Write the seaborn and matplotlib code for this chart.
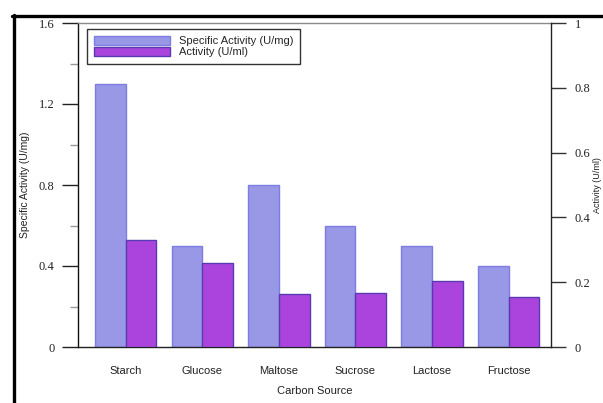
import matplotlib
matplotlib.use("Agg")
import matplotlib.pyplot as plt
from matplotlib.lines import Line2D
import seaborn as sns
import pandas as pd

# Enzyme production on different carbon sources
categories = ["Starch", "Glucose", "Maltose", "Sucrose", "Lactose", "Fructose"]
specific_activity = [1.30, 0.50, 0.80, 0.60, 0.50, 0.40]   # U/mg, left axis
activity = [0.33, 0.26, 0.163, 0.166, 0.203, 0.153]        # U/ml, right axis

SPEC = "Specific Activity (U/mg)"
ACT = "Activity (U/ml)"
left_ticks = [0, 0.4, 0.8, 1.2, 1.6]
left_tick_labels = ["0", "0.4", "0.8", "1.2", "1.6"]
left_minor = [0.2, 0.6, 1.0, 1.4]
right_ticks = [0, 0.2, 0.4, 0.6, 0.8, 1.0]
right_tick_labels = ["0", "0.2", "0.4", "0.6", "0.8", "1"]

df = pd.DataFrame({
    "Carbon Source": categories * 2,
    "value": specific_activity + activity,
    "series": [SPEC] * len(categories) + [ACT] * len(categories),
})

sns.set_style("white")
plt.rcParams["font.family"] = ["Liberation Sans", "DejaVu Sans"]

fill = {SPEC: "#9898e6", ACT: "#aa44dd"}
edge = {SPEC: "#7d7de2", ACT: "#5a3ab2"}

fig = plt.figure(figsize=(6.03, 4.03), dpi=100)
ax1 = fig.add_axes([78 / 603, 1 - 347 / 403, 473 / 603, 324 / 403])
ax2 = ax1.twinx()

for ax, name in ((ax1, SPEC), (ax2, ACT)):
    sns.barplot(data=df[df["series"] == name], x="Carbon Source", y="value",
                hue="series", hue_order=[SPEC, ACT], order=categories,
                palette=fill, dodge=True, width=0.8, gap=0, errorbar=None,
                edgecolor=edge[name], linewidth=1.0, saturation=1,
                legend=False, ax=ax)

ax1.set_xlim(-0.625, 5.555)
ax1.set_ylim(0, 1.6)
ax2.set_ylim(0, 1.0)

serif = ["Liberation Serif", "DejaVu Serif"]

ax1.set_yticks(left_ticks)
ax1.set_yticklabels(left_tick_labels, family=serif, fontsize=9, color="#222222")
ax1.set_yticks(left_minor, minor=True)
ax1.tick_params(axis="y", which="major", direction="out", length=11.5, width=1,
                color="#222222", pad=5.5, left=True, right=False)
ax1.tick_params(axis="y", which="minor", direction="out", length=6, width=1,
                color="#999999", left=True, right=False)

ax2.set_yticks(right_ticks)
ax2.set_yticklabels(right_tick_labels, family=serif, fontsize=9, color="#222222")
ax2.tick_params(axis="y", which="major", direction="out", length=11, width=1,
                color="#333333", pad=6, right=True, left=False)

ax1.set_xticks(range(len(categories)))
ax1.set_xticklabels(categories, fontsize=8, color="#222222")
ax1.tick_params(axis="x", length=0, pad=14)
ax1.set_xlabel("Carbon Source", fontsize=8, color="#222222", labelpad=7)
ax2.set_xlabel("")

narrow = ["Liberation Sans Narrow", "Liberation Sans", "DejaVu Sans"]
ax1.set_ylabel(SPEC, family=narrow, fontsize=7.5, color="#222222", labelpad=6)
ax2.set_ylabel(ACT, family=narrow, fontsize=6.5, color="#222222", labelpad=2,
               rotation=90)

for ax in (ax1, ax2):
    for side in ("left", "right", "top", "bottom"):
        ax.spines[side].set_visible(False)
ax1.spines["left"].set_visible(True)
ax1.spines["left"].set_color("#111111")
ax1.spines["bottom"].set_visible(True)
ax1.spines["bottom"].set_color("#222222")
ax1.spines["top"].set_visible(True)
ax1.spines["top"].set_color("#8a8a8a")
ax2.spines["right"].set_visible(True)
ax2.spines["right"].set_color("#222222")
for ax in (ax1, ax2):
    for sp in ax.spines.values():
        sp.set_linewidth(1.0)

handles = [ax1.patches[0], ax2.patches[0]]
leg = ax2.legend(handles, [SPEC, ACT], loc="upper left",
                 bbox_to_anchor=(9 / 473, 1 - 6 / 324), fontsize=8,
                 frameon=True, fancybox=False, edgecolor="#333333",
                 framealpha=1, handlelength=6.9, handleheight=0.9,
                 handletextpad=0.8, labelspacing=0.05, borderpad=0.6,
                 borderaxespad=0)
leg.get_frame().set_linewidth(1.0)

# Heavy border along the top and left of the figure panel
fig.add_artist(Line2D([12 / 603, 1], [1 - 15.5 / 403] * 2,
                      transform=fig.transFigure, color="black", lw=2.4))
fig.add_artist(Line2D([13.5 / 603] * 2, [0, 1 - 14.5 / 403],
                      transform=fig.transFigure, color="black", lw=2.4))

fig.savefig("out.png", dpi=100)
